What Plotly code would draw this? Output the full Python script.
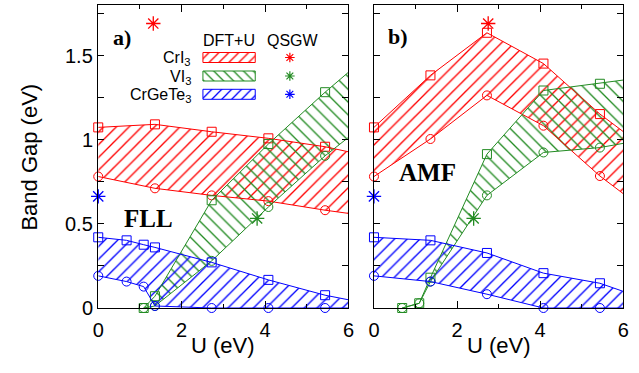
import plotly.graph_objects as go

# ---------------- data (U in eV, band gap in eV) ----------------
# FLL panel
fll_cri3_u = [0, 1.36, 2.72, 4.08, 5.44, 6.8]
fll_cri3_hi = [1.073, 1.091, 1.047, 1.008, 0.958, 0.885]
fll_cri3_lo = [0.781, 0.711, 0.669, 0.635, 0.581, 0.535]

fll_vi3_u = [1.09, 1.36, 2.72, 4.08, 5.44, 6.8]
fll_vi3_hi = [0.0, 0.07, 0.64, 0.974, 1.282, 1.57]
fll_vi3_lo = [0.0, 0.012, 0.28, 0.60, 0.904, 1.17]

fll_cgt_u = [0, 0.68, 1.09, 1.36, 2.72, 4.08, 5.44, 6.8]
fll_cgt_hi = [0.42, 0.402, 0.376, 0.36, 0.271, 0.167, 0.076, 0.01]
fll_cgt_lo = [0.191, 0.157, 0.127, 0.012, 0.0, 0.0, 0.0, 0.0]

# AMF panel
amf_cri3_u = [0, 1.36, 2.72, 4.08, 5.44, 6.8]
amf_cri3_hi = [1.073, 1.382, 1.635, 1.452, 1.152, 0.90]
amf_cri3_lo = [0.781, 1.004, 1.263, 1.083, 0.784, 0.53]

amf_vi3_u = [0.68, 1.09, 1.36, 2.72, 4.08, 5.44, 6.8]
amf_vi3_hi = [0.0, 0.028, 0.18, 0.914, 1.292, 1.332, 1.38]
amf_vi3_lo = [0.0, 0.028, 0.157, 0.669, 0.924, 0.953, 1.014]

amf_cgt_u = [0, 1.36, 2.72, 4.08, 5.44, 6.8]
amf_cgt_hi = [0.42, 0.402, 0.327, 0.207, 0.147, 0.03]
amf_cgt_lo = [0.191, 0.157, 0.082, 0.0, 0.0, 0.0]

# QSGW values (U position where drawn, gap)
qsgw_names = ["CrI3", "VI3", "CrGeTe3"]
qsgw_fll_u = [1.32, 3.81, 0.0]
qsgw_amf_u = [2.75, 2.40, 0.0]
qsgw_gap = [1.69, 0.532, 0.663]

materials = ["CrI<sub>3</sub>", "VI<sub>3</sub>", "CrGeTe<sub>3</sub>"]
colors = ["#ff0000", "#228b22", "#0000ff"]
hatches = ["/", "\\", "/"]

x_ticks = [0, 2, 4, 6]
y_ticks = [0, 0.25, 0.5, 0.75, 1.0, 1.25, 1.5, 1.75]
y_label_vals = [0, 0.5, 1.0, 1.5]
y_label_text = ["0", "0.5", "1", "1.5"]

# ---------------- figure ----------------
W, H = 639, 373
L1, R1, L2, R2, TOP, BOT = 94, 349, 375, 629, 5, 308
fig = go.Figure()

panels = [
    ("x", "y", [(fll_cri3_u, fll_cri3_hi, fll_cri3_u, fll_cri3_lo),
                (fll_vi3_u, fll_vi3_hi, fll_vi3_u, fll_vi3_lo),
                (fll_cgt_u, fll_cgt_hi, fll_cgt_u, fll_cgt_lo)], qsgw_fll_u),
    ("x2", "y2", [(amf_cri3_u, amf_cri3_hi, amf_cri3_u, amf_cri3_lo),
                  (amf_vi3_u, amf_vi3_hi, amf_vi3_u, amf_vi3_lo),
                  (amf_cgt_u, amf_cgt_hi, amf_cgt_u, amf_cgt_lo)], qsgw_amf_u),
]

for xa, ya, bands, qu in panels:
    # hatched fills
    for (uh, hi, ul, lo), c, h in zip(bands, colors, hatches):
        fig.add_trace(go.Scatter(
            x=list(uh) + list(ul)[::-1], y=list(hi) + list(lo)[::-1],
            xaxis=xa, yaxis=ya, mode="lines", fill="toself",
            line=dict(width=0, color=c), fillcolor="rgba(0,0,0,0)",
            fillpattern=dict(shape=h, fgcolor=c, fgopacity=1,
                             bgcolor="rgba(0,0,0,0)", size=9, solidity=0.15),
            hoverinfo="skip", showlegend=False))
    # boundary lines and markers
    for (uh, hi, ul, lo), c in zip(bands, colors):
        for uu, vv, sym in ((uh, hi, "square-open"), (ul, lo, "circle-open")):
            fig.add_trace(go.Scatter(x=uu, y=vv, xaxis=xa, yaxis=ya, mode="lines",
                                     line=dict(color=c, width=1), showlegend=False))
            mu = [a for a in uu if a <= 6]
            mv = [b for a, b in zip(uu, vv) if a <= 6]
            fig.add_trace(go.Scatter(x=mu, y=mv, xaxis=xa, yaxis=ya, mode="markers",
                                     marker=dict(symbol=sym, size=9, color=c,
                                                 line=dict(width=1, color=c)),
                                     cliponaxis=False, showlegend=False))
    # QSGW stars
    for u, g, c in zip(qu, qsgw_gap, colors):
        fig.add_trace(go.Scatter(x=[u], y=[g], xaxis=xa, yaxis=ya, mode="markers",
                                 marker=dict(symbol="asterisk-open", size=12, color=c,
                                             line=dict(width=1.3, color=c)),
                                 cliponaxis=False, showlegend=False))

# ---------------- legend (own overlay axes, pixel offsets in panel a) ----------------
row_y = [52.5, 71.0, 89.3]
sw_x0, sw_x1, sw_h = 106.7, 160.0, 5.0
star_x = 195.3
for yy, c, h in zip(row_y, colors, hatches):
    fig.add_trace(go.Scatter(
        x=[sw_x0, sw_x1, sw_x1, sw_x0, sw_x0],
        y=[yy - sw_h, yy - sw_h, yy + sw_h, yy + sw_h, yy - sw_h],
        xaxis="x3", yaxis="y3", mode="lines", fill="toself",
        line=dict(width=1, color=c), fillcolor="rgba(0,0,0,0)",
        fillpattern=dict(shape=h, fgcolor=c, fgopacity=1,
                         bgcolor="rgba(0,0,0,0)", size=7, solidity=0.18),
        hoverinfo="skip", showlegend=False))
    fig.add_trace(go.Scatter(x=[star_x], y=[yy], xaxis="x3", yaxis="y3", mode="markers",
                             marker=dict(symbol="asterisk-open", size=8, color=c,
                                         line=dict(width=1.2, color=c)),
                             showlegend=False))

annotations = []
leg_font = dict(family="Liberation Sans", size=16, color="black")
annotations.append(dict(x=133, y=35, xref="x3", yref="y3", text="DFT+U",
                        xanchor="center", yanchor="middle",
                        showarrow=False, font=leg_font))
annotations.append(dict(x=198, y=35, xref="x3", yref="y3", text="QSGW",
                        xanchor="center", yanchor="middle",
                        showarrow=False, font=leg_font))
for yy, m in zip(row_y, materials):
    annotations.append(dict(x=97, y=yy + 1, xref="x3", yref="y3", text=m,
                            xanchor="right", yanchor="middle", showarrow=False,
                            font=leg_font))

tick_font = dict(family="Liberation Sans", size=20, color="black")
# y tick labels of panel a, placed on the y axis scale
for v, t in zip(y_label_vals, y_label_text):
    annotations.append(dict(x=(L1 - 3) / W, y=v, xref="paper", yref="y", text=t,
                            xanchor="right", yanchor="middle", showarrow=False,
                            font=tick_font))


def pann(px, py, text, font, **kw):
    d = dict(x=px / W, y=1 - py / H, xref="paper", yref="paper", text=text,
             xanchor="center", yanchor="middle", showarrow=False, font=font)
    d.update(kw)
    return d


serif22 = dict(family="Liberation Serif", size=22, color="black")
serif25 = dict(family="Liberation Serif", size=25, color="black")
sans22 = dict(family="Liberation Sans", size=22, color="black")
annotations += [
    pann(118, 38, "<b>a)</b>", serif22),
    pann(400, 37, "<b>b)</b>", serif22),
    pann(145, 219, "<b>FLL</b>", serif25),
    pann(430, 172, "<b>AMF</b>", serif25),
    pann(221, 345, "U (eV)", sans22),
    pann(502, 345, "U (eV)", sans22),
    pann(23, 157, "Band Gap (eV)", sans22, textangle=-90),
]

xcommon = dict(range=[0, 6], tickvals=x_ticks, ticks="inside", ticklen=7,
               tickcolor="black", showline=True, linecolor="black", linewidth=1,
               mirror="ticks", showgrid=False, zeroline=False, tickfont=tick_font,
               ticklabelstandoff=4,
               minor=dict(dtick=1, ticks="inside", ticklen=4, tickcolor="black"),
               fixedrange=True)
ycommon = dict(range=[0, 1.8], tickvals=y_ticks, ticks="inside", showticklabels=False,
               ticklen=6, tickcolor="black", showline=True, linecolor="black",
               linewidth=1, mirror="ticks", showgrid=False, zeroline=False,
               fixedrange=True)
ydom = [(H - BOT) / H, (H - TOP) / H]

fig.update_layout(
    width=W, height=H, margin=dict(l=0, r=0, t=0, b=0),
    paper_bgcolor="white", plot_bgcolor="white", showlegend=False,
    xaxis=dict(domain=[L1 / W, R1 / W], anchor="y", **xcommon),
    yaxis=dict(domain=ydom, anchor="x", **ycommon),
    xaxis2=dict(domain=[L2 / W, R2 / W], anchor="y2", **xcommon),
    yaxis2=dict(domain=ydom, anchor="x2", **ycommon),
    xaxis3=dict(domain=[L1 / W, R1 / W], anchor="y3", overlaying="x",
                range=[0, R1 - L1], visible=False, fixedrange=True),
    yaxis3=dict(domain=ydom, anchor="x3", overlaying="y",
                range=[BOT - TOP, 0], visible=False, fixedrange=True),
    annotations=annotations,
)

fig.write_html("out.html")
